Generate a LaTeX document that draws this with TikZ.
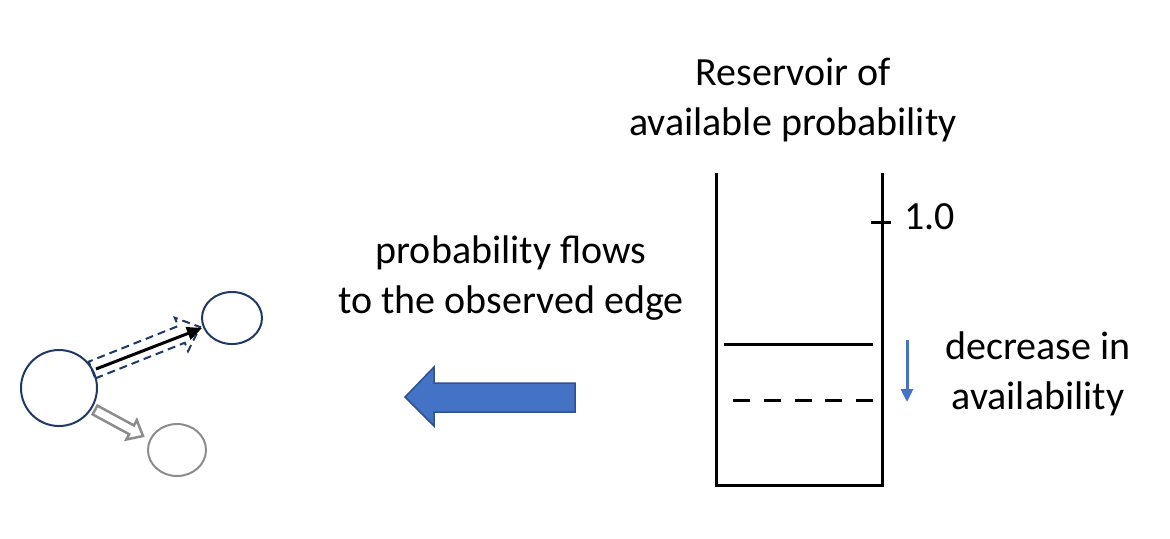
\documentclass[tikz,border=0pt]{standalone}
\usepackage{fontspec}
\setmainfont{Carlito}
\usetikzlibrary{arrows.meta,calc,shapes.geometric}
\definecolor{navy}{HTML}{203864}
\definecolor{pblue}{HTML}{4472C4}
\definecolor{pblueedge}{HTML}{2F528F}
\definecolor{gr}{HTML}{8C8C8C}
\tikzset{
  lbl/.style={font=\fontsize{20}{25}\selectfont, align=center, inner sep=0pt},
  graphnode/.style={draw=navy, line width=1pt, ellipse, inner sep=0pt},
  wall/.style={line width=1.5pt, line cap=butt},
}
\begin{document}
\begin{tikzpicture}[x=0.5pt,y=-0.5pt]
\useasboundingbox (0,0) rectangle (1170,538);
% graph nodes
\node[graphnode, minimum width=38pt, minimum height=38pt] (big) at (59,388) {};
\node[graphnode, minimum width=30pt, minimum height=26pt] (topr) at (232,318) {};
\node[graphnode, draw=gr, minimum width=29pt, minimum height=26pt] (botr) at (177,450) {};
% dashed hollow arrow
\coordinate (ds) at (92,370);
\coordinate (dt) at (200,327);
\coordinate (dh) at ($(dt)!10pt!(ds)$);
\draw[navy, line width=1pt, dash pattern=on 4pt off 2.5pt, line join=miter]
  ($(ds)!4.5pt!-90:(dt)$) -- ($(dh)!4.5pt!90:(ds)$) -- ($(dh)!9pt!90:(ds)$) -- (dt)
  -- ($(dh)!9pt!-90:(ds)$) -- ($(dh)!4.5pt!-90:(ds)$) -- ($(ds)!4.5pt!90:(dt)$) -- cycle;
% black arrow
\draw[line width=1.5pt, -{Triangle[length=7.5pt,width=6.5pt]}] (96,369) -- (202,328);
% gray hollow arrow
\coordinate (gs) at (95,410);
\coordinate (gt) at (143,436);
\coordinate (gh) at ($(gt)!6.5pt!(gs)$);
\draw[gr, line width=1.25pt, line join=miter]
  ($(gs)!2.5pt!-90:(gt)$) -- ($(gh)!2.5pt!90:(gs)$) -- ($(gh)!5.5pt!90:(gs)$) -- (gt)
  -- ($(gh)!5.5pt!-90:(gs)$) -- ($(gh)!2.5pt!-90:(gs)$) -- ($(gs)!2.5pt!90:(gt)$) -- cycle;
% big blue arrow
\draw[fill=pblue, draw=pblueedge, line width=0.75pt, line join=miter]
  (575,383) -- (434,383) -- (434,367) -- (405,397) -- (434,426) -- (434,412) -- (575,412) -- cycle;
% texts
\node[lbl] (flowtxt) at (511,278) {probability flows\\to the observed edge};
\node[lbl] (restxt) at (793,100) {Reservoir of\\available probability};
\node[lbl] (dectxt) at (1038,374) {decrease in\\availability};
% container
\coordinate (tl) at (716,173);
\coordinate (bl) at (716,485);
\coordinate (br) at (882,485);
\coordinate (tr) at (882,173);
\draw[wall, line join=miter] (tl) -- (bl) -- (br) -- (tr);
\draw[wall] (871,222) -- (891,222);
\node[lbl, anchor=west] (one) at (904,217) {1.0};
\draw[wall] (724,344) -- (873,344);
\draw[wall, dash pattern=on 8.5pt off 6.875pt] (733,400) -- (873,400);
% small blue arrow
\draw[pblue, line width=1.5pt, -{Triangle[length=6.5pt,width=6pt]}] (907,340) -- (907,402);
\end{tikzpicture}
\end{document}
